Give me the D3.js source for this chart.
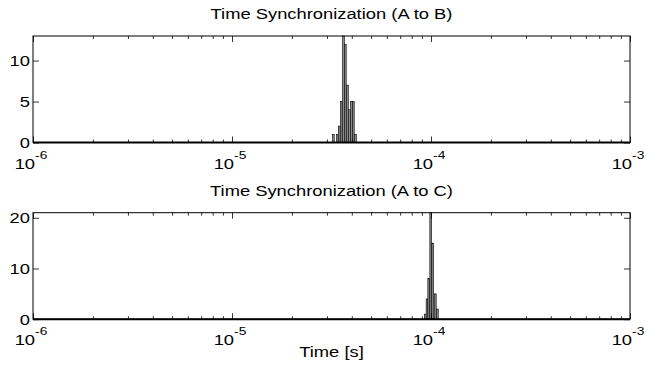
<!DOCTYPE html>
<html>
<head>
<meta charset="utf-8">
<script src="https://cdn.jsdelivr.net/npm/d3@7"></script>
<style>
  body { margin: 0; background: #fff; }
  svg { display: block; }
  text { font-family: "Liberation Sans", Arial, Helvetica, sans-serif; fill: #000; }
</style>
</head>
<body>
<div id="chart"></div>
<script>
// histogram bin centres (seconds) and counts
const abCenters = [3.23e-5, 3.31e-5, 3.38e-5, 3.46e-5, 3.54e-5, 3.63e-5, 3.71e-5, 3.80e-5, 3.89e-5, 3.98e-5, 4.07e-5, 4.17e-5];
const abCounts  = [1, 0, 1, 2, 5, 13, 12, 7, 4, 5, 5, 1];

const acCenters = [9.36e-5, 9.55e-5, 9.74e-5, 9.97e-5, 1.020e-4, 1.051e-4, 1.076e-4];
const acCounts  = [1, 4, 8, 21, 15, 5, 2];

const xDomain = [1e-6, 1e-3];
const xMajor = [1e-6, 1e-5, 1e-4, 1e-3];
const abYTicks = [0, 5, 10];
const acYTicks = [0, 10, 20];

const panels = [
  { title: 'Time Synchronization (A to B)', centers: abCenters, counts: abCounts, yMax: 13, yTicks: abYTicks, top: 36 },
  { title: 'Time Synchronization (A to C)', centers: acCenters, counts: acCounts, yMax: 21, yTicks: acYTicks, top: 212.7 }
];

const width = 660, height = 366;
const left = 33, right = 630, plotH = 106.5;
const fs = 15.3, sx = 1.2;   // source text is stretched horizontally
const halfBin = 0.0045;      // half bar width, in decades

const svg = d3.select('#chart').append('svg')
  .attr('width', width)
  .attr('height', height);

const x = d3.scaleLog().domain(xDomain).range([left, right]);

// stretched text helper
function label(g, tx, ty, anchor, str, size) {
  return g.append('text')
    .attr('transform', `translate(${tx},${ty}) scale(${sx},1)`)
    .attr('text-anchor', anchor)
    .attr('font-size', size || fs)
    .text(str);
}

panels.forEach(p => {
  const bottom = p.top + plotH;
  const y = d3.scaleLinear().domain([0, p.yMax]).range([bottom, p.top]);
  const g = svg.append('g');

  // bars
  g.selectAll('rect.bar')
    .data(p.centers.map((c, i) => ({ c, n: p.counts[i] })).filter(d => d.n > 0))
    .enter().append('rect')
    .attr('class', 'bar')
    .attr('x', d => x(d.c * Math.pow(10, -halfBin)))
    .attr('width', d => x(d.c * Math.pow(10, halfBin)) - x(d.c * Math.pow(10, -halfBin)))
    .attr('y', d => y(d.n))
    .attr('height', d => y(0) - y(d.n))
    .attr('fill', '#8c8c8c')
    .attr('stroke', '#000')
    .attr('stroke-width', 0.6);

  // minor + major ticks on x, inside, bottom and top
  const minor = x.ticks().filter(v => !xMajor.some(m => Math.abs(v / m - 1) < 1e-6));
  const axes = [
    { ax: d3.axisBottom(x), pos: bottom },
    { ax: d3.axisTop(x), pos: p.top }
  ];
  axes.forEach(a => {
    g.append('g')
      .attr('transform', `translate(0,${a.pos})`)
      .call(a.ax.tickValues(minor).tickSize(-3).tickFormat(''))
      .call(s => s.select('.domain').remove())
      .call(s => s.selectAll('line').attr('stroke', '#000').attr('stroke-width', 0.8));
    g.append('g')
      .attr('transform', `translate(0,${a.pos})`)
      .call(a.ax.tickValues(xMajor).tickSize(-6).tickFormat(''))
      .call(s => s.select('.domain').remove())
      .call(s => s.selectAll('line').attr('stroke', '#000').attr('stroke-width', 0.8));
  });

  // y ticks, inside, left and right
  g.append('g')
    .attr('transform', `translate(${left},0)`)
    .call(d3.axisLeft(y).tickValues(p.yTicks).tickSize(-6).tickFormat(''))
    .call(s => s.select('.domain').remove())
    .call(s => s.selectAll('line').attr('stroke', '#000').attr('stroke-width', 0.8));
  g.append('g')
    .attr('transform', `translate(${right},0)`)
    .call(d3.axisRight(y).tickValues(p.yTicks).tickSize(-6).tickFormat(''))
    .call(s => s.select('.domain').remove())
    .call(s => s.selectAll('line').attr('stroke', '#000').attr('stroke-width', 0.8));

  // frame
  g.append('rect')
    .attr('x', left).attr('y', p.top)
    .attr('width', right - left).attr('height', plotH)
    .attr('fill', 'none').attr('stroke', '#000').attr('stroke-width', 1);
  // baseline of empty bins
  g.append('line')
    .attr('x1', left).attr('x2', right)
    .attr('y1', y(0)).attr('y2', y(0))
    .attr('stroke', '#000').attr('stroke-width', 2);

  // y labels
  p.yTicks.forEach(v => {
    label(g, left - 3, y(v) + 5.5, 'end', String(v));
  });

  // x labels: 10 with superscript exponent
  xMajor.forEach(v => {
    const e = Math.round(Math.log10(v));
    const t = g.append('text')
      .attr('transform', `translate(${x(v) - 2},${bottom + 26}) scale(${sx},1)`)
      .attr('text-anchor', 'middle')
      .attr('font-size', fs);
    t.append('tspan').text('10');
    t.append('tspan').attr('dy', -10).attr('font-size', 11.5).text('-' + Math.abs(e));
  });

  // title
  label(g, (left + right) / 2, p.top - 17, 'middle', p.title);
});

// x axis title
label(svg, (left + right) / 2, 357, 'middle', 'Time [s]');
</script>
</body>
</html>
